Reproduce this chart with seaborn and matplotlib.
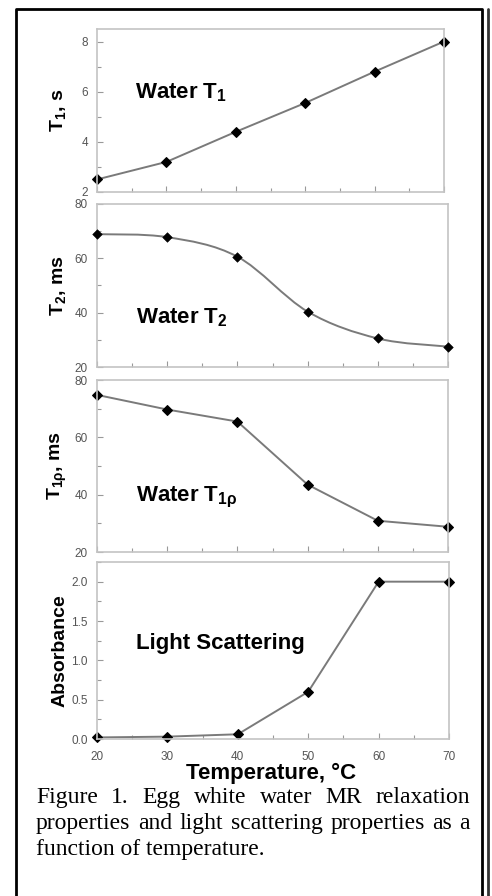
import numpy as np
import matplotlib
matplotlib.use("Agg")
import matplotlib.pyplot as plt
import seaborn as sns
from matplotlib.path import Path
from matplotlib.patches import PathPatch
from matplotlib.lines import Line2D
from matplotlib.ticker import MultipleLocator, FormatStrFormatter

# values
temperature = [20, 30, 40, 50, 60, 70]
t1_s = [2.5, 3.2, 4.4, 5.55, 6.8, 8.0]
t2_ms = [68.9, 67.8, 60.6, 40.4, 30.5, 27.5]
t1rho_ms = [74.8, 69.7, 65.5, 43.5, 30.9, 28.8]
absorbance = [0.02, 0.03, 0.06, 0.6, 2.0, 2.0]

ylabels = [r"T$_\mathbf{1}$, s", r"T$_\mathbf{2}$, ms", r"T$_\mathbf{1ρ}$, ms", "Absorbance"]
titles = [r"Water T$_\mathbf{1}$", r"Water T$_\mathbf{2}$", r"Water T$_\mathbf{1ρ}$", "Light Scattering"]
caption = ["Figure 1. Egg white water MR relaxation",
           "properties and light scattering properties as a",
           "function of temperature."]

sns.set_theme(style="white")
plt.rcParams['font.family'] = ['Liberation Sans', 'DejaVu Sans']
plt.rcParams['mathtext.fontset'] = 'custom'
plt.rcParams['mathtext.rm'] = 'Liberation Sans'
plt.rcParams['mathtext.bf'] = 'Liberation Sans:bold'

W, H = 492, 896
fig = plt.figure(figsize=(W / 100, H / 100), dpi=100)

# axes boxes in pixels: left, right, top, bottom
boxes = [(97, 444, 29, 192), (97, 448, 204, 367), (97, 448, 380, 552), (97, 449, 562, 739)]
ylims = [(2, 8.5), (20, 80), (20, 80), (0, 2.25)]
majors = [2, 20, 20, 0.5]
minors = [1, 10, 10, 0.25]
text_y = [0.575, 0.27, 0.297, 0.51]

axes = []
for l, r, t, b in boxes:
    axes.append(fig.add_axes([l / W, 1 - b / H, (r - l) / W, (b - t) / H]))

series = [t1_s, t2_ms, t1rho_ms, absorbance]
line_col = '#7a7a7a'

for i, ax in enumerate(axes):
    if i == 1:
        # smoothed line like the spreadsheet's curve
        pts = np.column_stack([temperature, series[i]]).astype(float)
        n = len(pts)
        verts = [pts[0]]
        codes = [Path.MOVETO]
        for k in range(n - 1):
            p0 = pts[max(k - 1, 0)]
            p1 = pts[k]
            p2 = pts[k + 1]
            p3 = pts[min(k + 2, n - 1)]
            verts += [p1 + (p2 - p0) / 6, p2 - (p3 - p1) / 6, p2]
            codes += [Path.CURVE4] * 3
        ax.add_patch(PathPatch(Path(verts, codes), facecolor='none',
                               edgecolor=line_col, lw=1.4, zorder=2))
        sns.scatterplot(x=temperature, y=series[i], ax=ax, marker='D', s=24,
                        color='black', edgecolor='black', zorder=3, clip_on=False)
    else:
        sns.lineplot(x=temperature, y=series[i], ax=ax, color=line_col, lw=1.4,
                     marker='D', markersize=4.6, markerfacecolor='black',
                     markeredgecolor='black', clip_on=False)

    ax.set_xlim(20, 70)
    ax.set_ylim(*ylims[i])
    ax.xaxis.set_major_locator(MultipleLocator(10))
    ax.xaxis.set_minor_locator(MultipleLocator(5))
    ax.yaxis.set_major_locator(MultipleLocator(majors[i]))
    ax.yaxis.set_minor_locator(MultipleLocator(minors[i]))
    ax.tick_params(which='both', direction='in', color='#999999', width=0.8,
                   labelsize=8.5, labelcolor='#555555', pad=6.5)
    ax.tick_params(which='major', length=4)
    ax.tick_params(which='minor', length=3)
    ax.tick_params(axis='x', pad=8.5)
    ax.tick_params(bottom=True, left=True, which='both')
    for s in ax.spines.values():
        s.set_color('#c4c4c4')
        s.set_linewidth(1.2)
    if i == 3:
        ax.yaxis.set_major_formatter(FormatStrFormatter('%.1f'))
    else:
        ax.tick_params(axis='x', labelbottom=False)
    ax.set_ylabel(ylabels[i], fontsize=14, fontweight='bold', color='black')
    ax.yaxis.set_label_coords(-0.08, 0.5)
    ax.text(0.11, text_y[i], titles[i], transform=ax.transAxes, fontsize=16,
            fontweight='bold', color='black', va='baseline', ha='left')

fig.text(271 / W, 1 - 779 / H, "Temperature, °C", fontsize=16, fontweight='bold',
         ha='center', va='baseline', color='black')

# justified caption in serif
renderer = fig.canvas.get_renderer()
x0, x1 = 36, 470
baselines = [803, 829, 855]
serif = ['Liberation Serif', 'DejaVu Serif']
cap_size = 17
for j, line in enumerate(caption):
    if j == len(caption) - 1:
        fig.text(x0 / W, 1 - baselines[j] / H, line, fontsize=cap_size, va='baseline',
                 family=serif, color='black')
        continue
    words = line.split()
    texts = [fig.text(0, 1 - baselines[j] / H, w, fontsize=cap_size, va='baseline',
                      family=serif, color='black') for w in words]
    widths = [t.get_window_extent(renderer).width for t in texts]
    gap = ((x1 - x0) - sum(widths)) / (len(words) - 1)
    xp = x0
    for t, w in zip(texts, widths):
        t.set_x(xp / W)
        xp += w + gap

# outer frame
fig.add_artist(Line2D([16 / W, 16 / W, 482 / W, 482 / W], [0, 1 - 9 / H, 1 - 9 / H, 0],
                      transform=fig.transFigure, color='black', lw=2))
fig.add_artist(Line2D([488 / W, 488 / W], [0, 1 - 9 / H],
                      transform=fig.transFigure, color='#333333', lw=2))

fig.savefig("out.png", dpi=100)
